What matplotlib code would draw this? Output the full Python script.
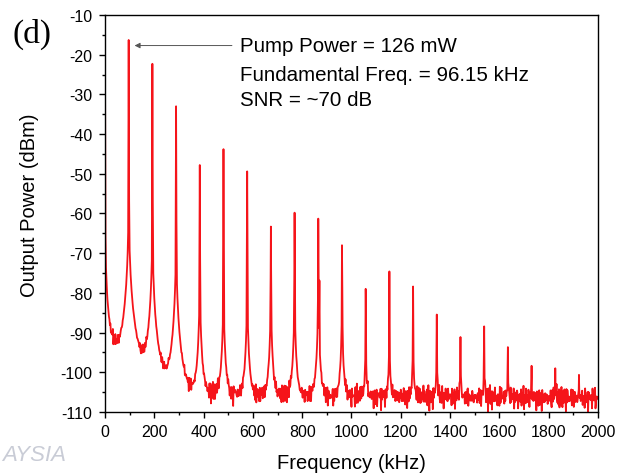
import numpy as np
import matplotlib
matplotlib.use('Agg')
import matplotlib.pyplot as plt
from matplotlib.ticker import MultipleLocator

# RF spectrum of the mode-locked output, harmonics of 96.15 kHz

f0 = 96.15
harmonic_no = np.arange(1, 21)
peak_top_db = [-16.3, -22.3, -33.0, -47.8, -43.8, -49.4, -63.3, -59.8, -61.3, -68.0,
               -79.0, -74.6, -78.4, -85.5, -91.2, -88.5, -94.0, -99.4, -100.6, -103.0]
# level of the base (noise pedestal) under each harmonic
pedestal_db = [-62, -68, -71, -81, -83, -83, -84, -84, -84, -87,
               -95, -94, -95, -98, -100, -100, -102, -106, -106, -108]

# DC component at the left edge
dc_top_db = -20.0
dc_pedestal_db = -66.0

# small side lines next to the 9th and 10th harmonics
side_f = [870.0, 963.0]
side_db = [-77.0, -80.0]

# noise floor read at a few points
floor_f = [0, 50, 150, 250, 350, 450, 700, 1200, 2000]
floor_db = [-92.0, -94.0, -97.0, -101.0, -104.5, -105.5, -106.0, -106.0, -106.5]

# ripple on the floor (dB), typed in to give the trace its grain
ripple_a = [0.8, -1.2, 0.3, 1.5, -0.6, -2.1, 0.9, 0.1, -1.4, 1.1, -0.3, 0.6,
            -2.4, 1.3, -0.8, 0.4, 1.8, -1.0, -0.2, 0.7, -1.7, 1.0, -0.5]
ripple_b = [-0.4, 0.9, -1.1, 0.2, 1.3, -0.7, -1.6, 0.5, 1.0, -0.2, -0.9, 1.4,
            0.3, -1.3, 0.6, -0.1, 1.1, -2.0, 0.8, -0.5, 0.2, 1.2, -0.8, -0.3,
            0.7, -1.5, 0.4, 1.0, -0.6, 0.1, -1.0, 0.9, -0.4, 1.5, -1.2, 0.3, -0.7]

peak_f = f0 * harmonic_no
freq = np.union1d(np.arange(0, 2000.1, 2.0), np.concatenate([peak_f, side_f]))
idx = np.arange(len(freq))
ripple = np.array(ripple_a)[idx % len(ripple_a)] + np.array(ripple_b)[idx % len(ripple_b)]

lin = 10 ** ((np.interp(freq, floor_f, floor_db) + ripple) / 10)


def line(fc, top, ped, w=2.0, cut=25.0):
    d = freq - fc
    top_lin, ped_lin = 10 ** (top / 10), 10 ** (ped / 10)
    spike = (top_lin - ped_lin) * np.exp(-(d / 0.6) ** 2)
    base = ped_lin / (1 + (d / w) ** 2) * np.exp(-np.abs(d) / cut)
    return spike + base


lin += line(0.0, dc_top_db, dc_pedestal_db)
for fc, top, ped in zip(peak_f, peak_top_db, pedestal_db):
    lin += line(fc, top, ped)
for fc, top in zip(side_f, side_db):
    lin += 10 ** (top / 10) * np.exp(-((freq - fc) / 0.6) ** 2)

power_db = 10 * np.log10(lin)

plt.rcParams['font.family'] = ['Liberation Sans', 'DejaVu Sans']
plt.rcParams['axes.unicode_minus'] = False

fig = plt.figure(figsize=(6.19, 4.77), dpi=100)
ax = fig.add_axes([0.1696, 0.1342, 0.7964, 0.8323])
ax.plot(freq, power_db, color='#f5141a', lw=1.3)

ax.set_xlim(0, 2000)
ax.set_ylim(-110, -10)
ax.xaxis.set_major_locator(MultipleLocator(200))
ax.xaxis.set_minor_locator(MultipleLocator(100))
ax.yaxis.set_major_locator(MultipleLocator(10))
ax.yaxis.set_minor_locator(MultipleLocator(5))
ax.tick_params(which='both', direction='out', top=False, right=False,
               labelsize=11.5, width=1.0)
ax.tick_params(which='major', length=4, pad=5)
ax.tick_params(which='minor', length=2.5)
for s in ax.spines.values():
    s.set_linewidth(1.0)

ax.set_xlabel('Frequency (kHz)', fontsize=14.5, labelpad=10)
ax.set_ylabel('Output Power (dBm)', fontsize=14.5)
ax.yaxis.set_label_coords(-0.134, 0.524)

ax.annotate('', xy=(120, -17.7), xytext=(515, -17.7),
            arrowprops=dict(arrowstyle='-|>', color='#555555', lw=0.7,
                            mutation_scale=8, shrinkA=0, shrinkB=0))
ann = ['Pump Power = 126 mW', 'Fundamental Freq. = 96.15 kHz', 'SNR = ~70 dB']
for t, y in zip(ann, [0.922, 0.851, 0.788]):
    ax.text(0.274, y, t, transform=ax.transAxes, fontsize=14.8, va='center', ha='left')

fig.text(12 / 619, 1 - 34 / 477, '(d)', family='Liberation Serif', fontsize=24,
         va='center', ha='left')
fig.text(0.004, 0.045, 'AYSIA', fontsize=16, color='#c9ccd6', style='italic',
         va='center', ha='left')

fig.savefig('out.png', dpi=100)
